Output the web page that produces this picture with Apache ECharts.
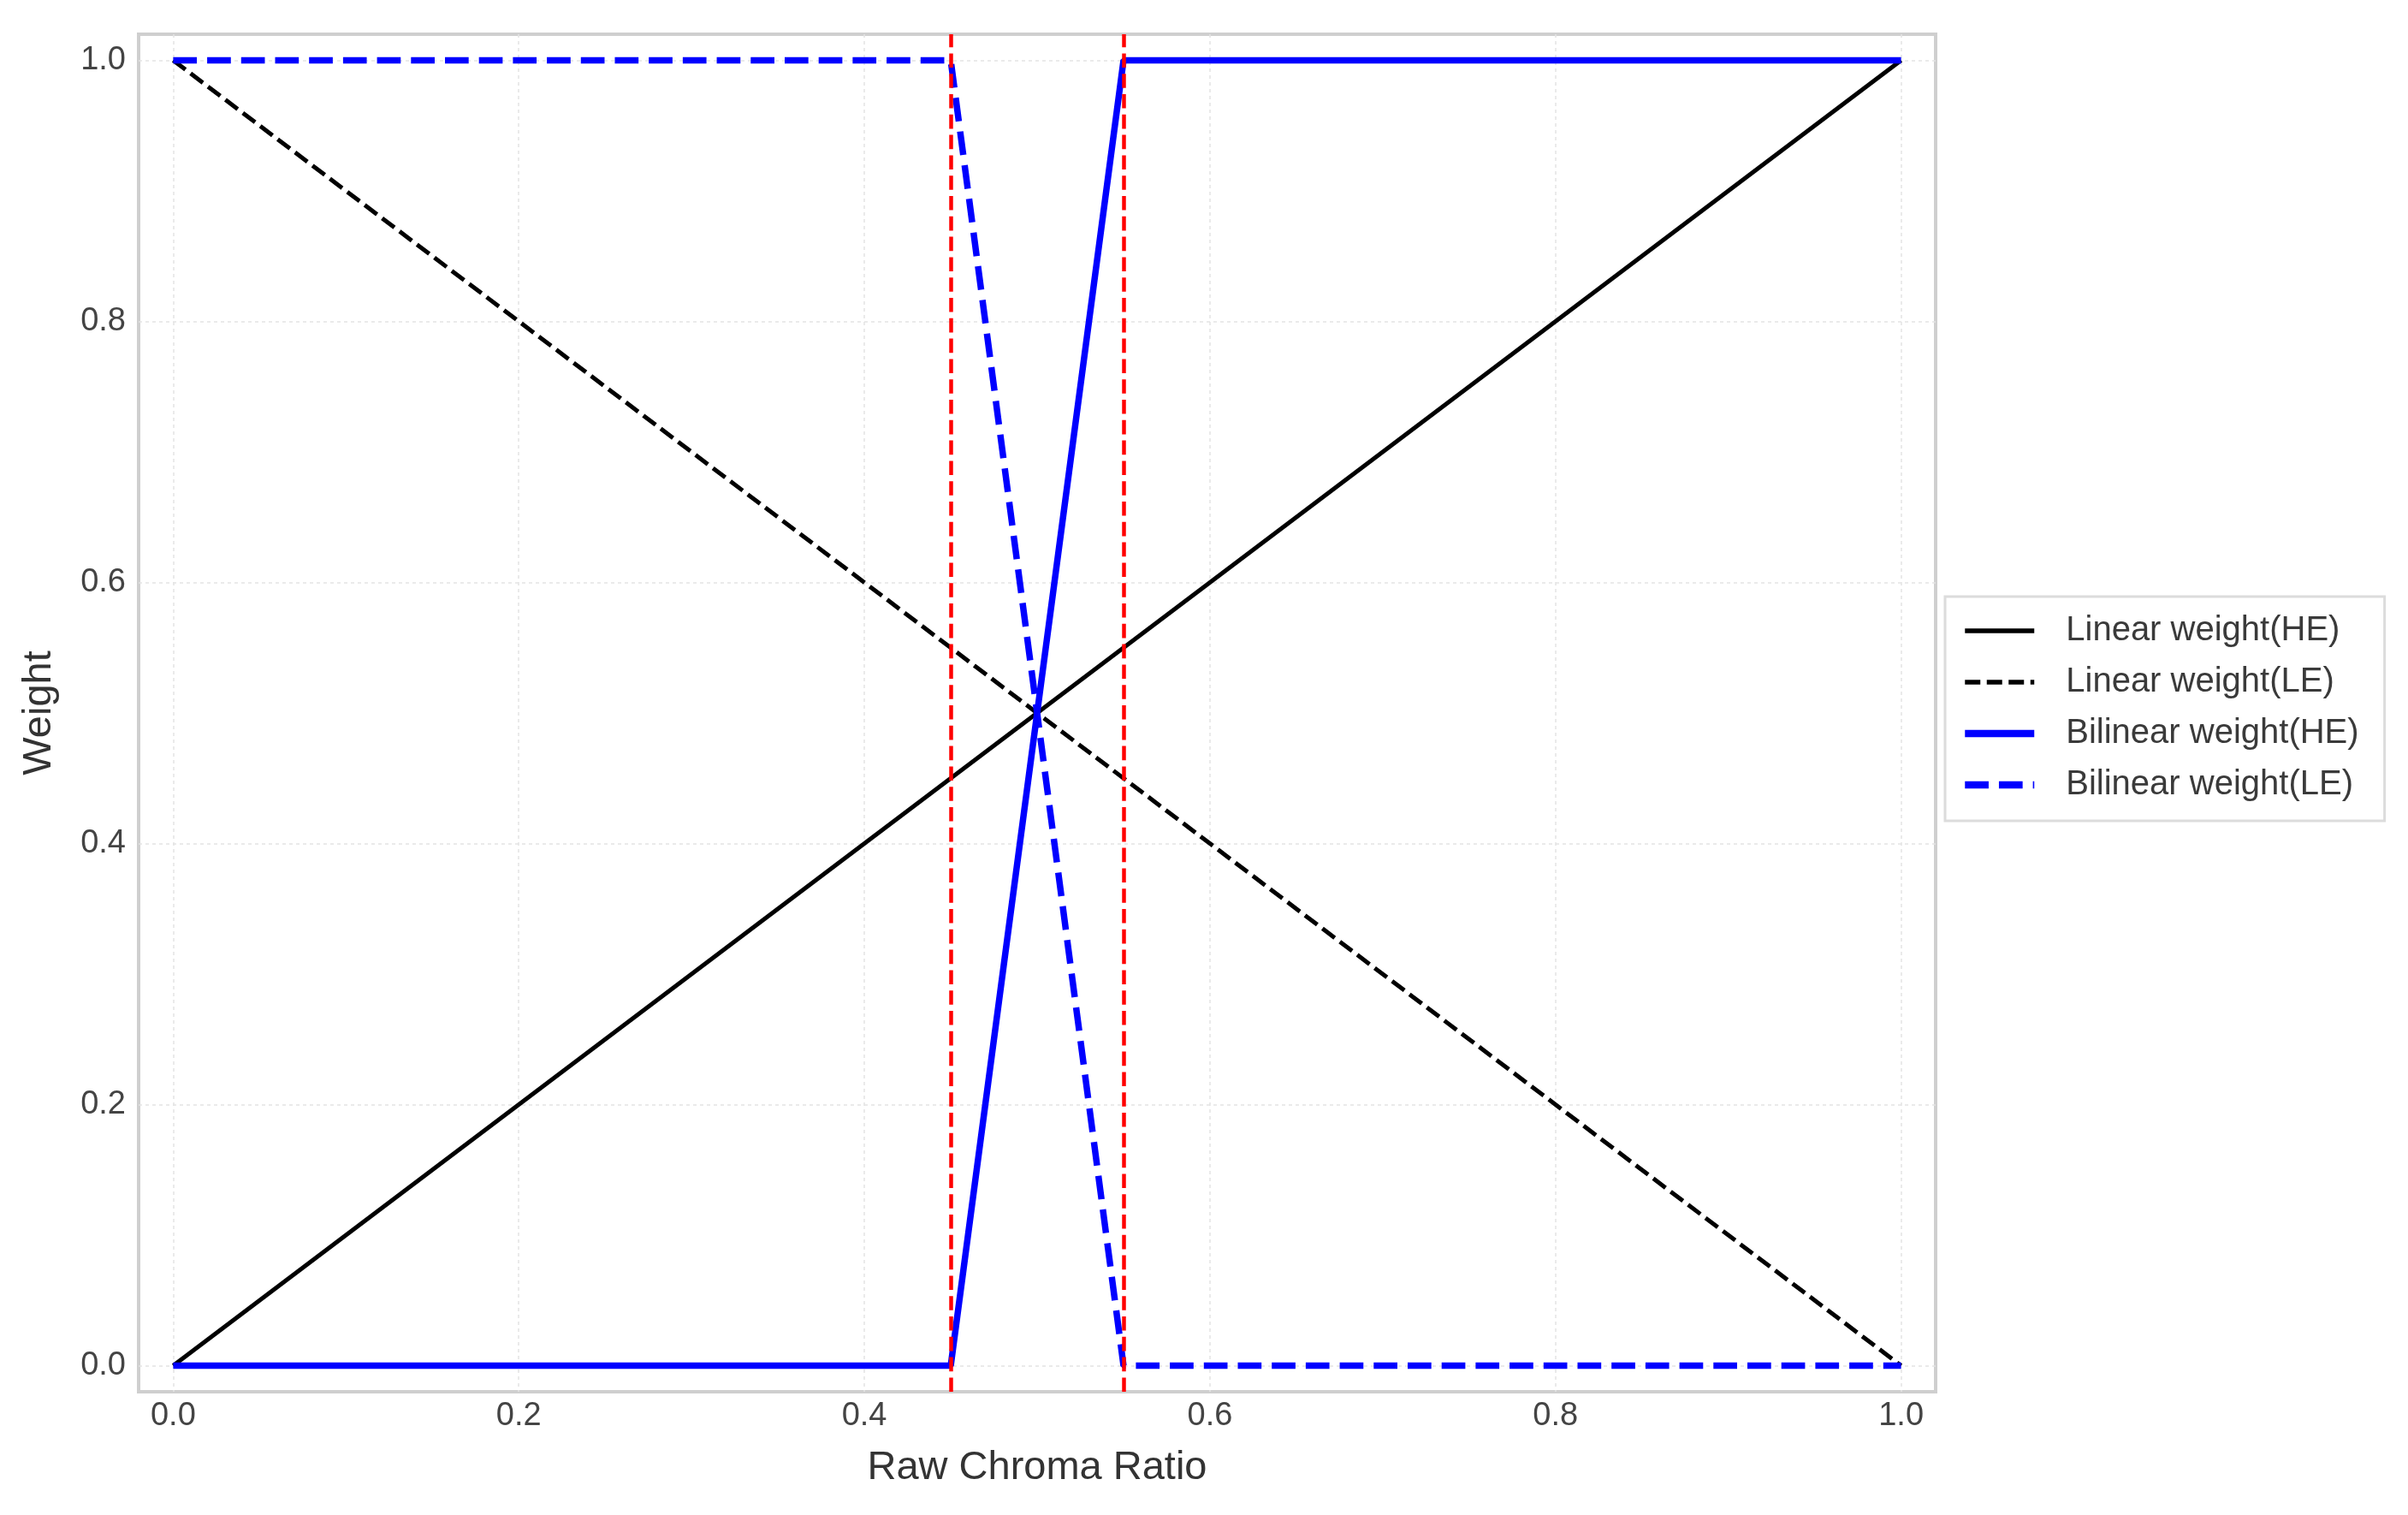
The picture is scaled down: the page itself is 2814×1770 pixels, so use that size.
<!DOCTYPE html>
<html>
<head>
<meta charset="utf-8">
<script src="https://cdn.jsdelivr.net/npm/echarts@6/dist/echarts.min.js"></script>
<style>
html,body{margin:0;padding:0;background:#fff;}
#chart{width:2814px;height:1770px;}
</style>
</head>
<body>
<div id="chart"></div>
<script>
// ---- data ----
const xLinear = [0, 1];
const linearHE = [0, 1];
const linearLE = [1, 0];
const xBilinear = [0, 0.45, 0.55, 1];
const bilinearHE = [0, 0, 1, 1];
const bilinearLE = [1, 1, 0, 0];
const thresholds = [0.45, 0.55];
const tickValues = [0, 0.2, 0.4, 0.6, 0.8, 1.0];
const seriesNames = ['Linear weight(HE)', 'Linear weight(LE)', 'Bilinear weight(HE)', 'Bilinear weight(LE)'];
const axisNames = { x: 'Raw Chroma Ratio', y: 'Weight' };

function pairs(xs, ys) { return xs.map((x, i) => [x, ys[i]]); }

const FONT = "'Liberation Sans', Arial, Helvetica, sans-serif";
const chart = echarts.init(document.getElementById('chart'), null, { renderer: 'canvas' });

function valueAxis(name, isX) {
  return {
    type: 'value',
    min: -0.02,
    max: 1.02,
    name: name,
    nameLocation: 'middle',
    nameGap: isX ? 66 : 92,
    nameTextStyle: { fontFamily: FONT, fontSize: 47, color: '#333333' },
    axisLine: { show: false },
    axisTick: { show: false, customValues: tickValues },
    axisLabel: {
      customValues: tickValues,
      fontFamily: FONT, fontSize: 38, color: '#444444',
      margin: isX ? 10 : 15,
      formatter: v => Number(v).toFixed(1)
    },
    splitLine: { show: true, lineStyle: { color: '#e4e4e4', width: 1.5, type: [4, 4] } }
  };
}

const hiddenSymbol = { color: 'rgba(0,0,0,0)', borderColor: 'rgba(0,0,0,0)', borderWidth: 0, opacity: 0 };

const option = {
  backgroundColor: '#ffffff',
  animation: false,
  grid: {
    left: 162, top: 40, right: 552, bottom: 144,
    show: true, borderColor: '#cfcfcf', borderWidth: 4, backgroundColor: 'transparent'
  },
  xAxis: valueAxis(axisNames.x, true),
  yAxis: valueAxis(axisNames.y, false),
  legend: {
    orient: 'vertical',
    left: 2273,
    top: 697,
    padding: [20, 30, 22, 19],
    itemGap: 20,
    itemWidth: 81,
    itemHeight: 14,
    backgroundColor: '#ffffff',
    borderColor: '#dcdcdc',
    borderWidth: 3,
    borderRadius: 0,
    itemStyle: hiddenSymbol,
    textStyle: { fontFamily: FONT, fontSize: 40, color: '#3a3a3a', lineHeight: 40, padding: [0, 0, 0, 32] },
    data: [
      { name: seriesNames[0], lineStyle: { width: 5.5 }, itemStyle: hiddenSymbol },
      { name: seriesNames[1], lineStyle: { width: 5.5 }, itemStyle: hiddenSymbol },
      { name: seriesNames[2], lineStyle: { width: 8.5 }, itemStyle: hiddenSymbol },
      { name: seriesNames[3], lineStyle: { width: 8.5 }, itemStyle: hiddenSymbol }
    ]
  },
  series: [
    {
      name: seriesNames[0], type: 'line', symbol: 'none', data: pairs(xLinear, linearHE),
      lineStyle: { color: '#000000', width: 5, type: 'solid' }, itemStyle: { color: '#000000' }
    },
    {
      name: seriesNames[1], type: 'line', symbol: 'none', data: pairs(xLinear, linearLE),
      lineStyle: { color: '#000000', width: 5, type: [18, 7.5] }, itemStyle: { color: '#000000' }
    },
    {
      name: seriesNames[2], type: 'line', symbol: 'none', data: pairs(xBilinear, bilinearHE),
      lineStyle: { color: '#0000ff', width: 7.5, type: 'solid' }, itemStyle: { color: '#0000ff' }
    },
    {
      name: seriesNames[3], type: 'line', symbol: 'none', data: pairs(xBilinear, bilinearLE),
      lineStyle: { color: '#0000ff', width: 7.5, type: [27.7, 12] }, itemStyle: { color: '#0000ff' }
    },
    {
      name: 'thresholds', type: 'line', symbol: 'none', data: [],
      markLine: {
        silent: true, symbol: ['none', 'none'], label: { show: false },
        lineStyle: { color: '#ff0000', width: 4.5, type: [16.6, 7.2] },
        data: thresholds.map(t => ({ xAxis: t }))
      }
    }
  ]
};
chart.setOption(option);
</script>
</body>
</html>
